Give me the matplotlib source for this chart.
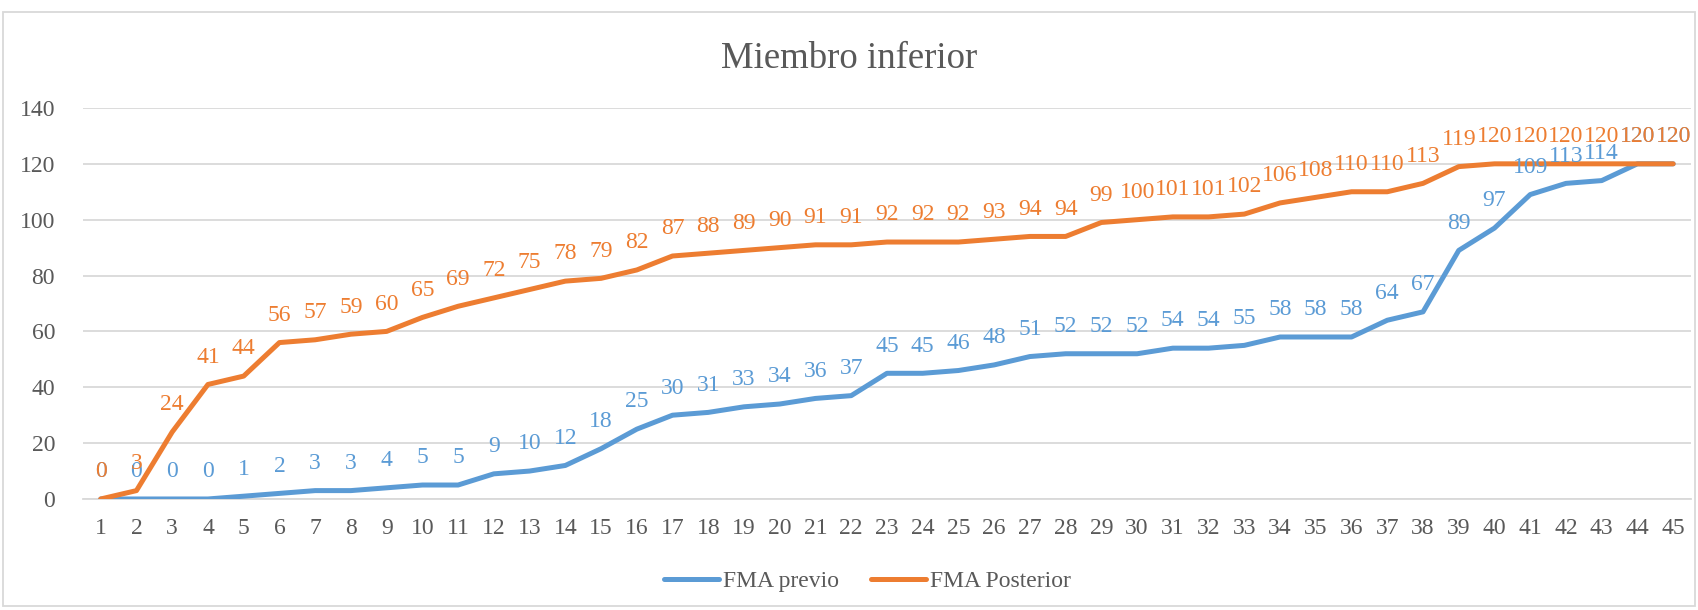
import matplotlib.pyplot as plt
from matplotlib.patches import Rectangle

pacientes = list(range(1, 46))
fma_previo = [0, 0, 0, 0, 1, 2, 3, 3, 4, 5, 5, 9, 10, 12, 18, 25, 30, 31, 33, 34,
              36, 37, 45, 45, 46, 48, 51, 52, 52, 52, 54, 54, 55, 58, 58, 58, 64, 67,
              89, 97, 109, 113, 114, 120, 120]
fma_posterior = [0, 3, 24, 41, 44, 56, 57, 59, 60, 65, 69, 72, 75, 78, 79, 82, 87, 88,
                 89, 90, 91, 91, 92, 92, 92, 93, 94, 94, 99, 100, 101, 101, 102, 106,
                 108, 110, 110, 113, 119, 120, 120, 120, 120, 120, 120]

azul = '#5B9BD5'
naranja = '#ED7D31'
gris = '#595959'

plt.rcParams['font.family'] = ['Liberation Serif', 'DejaVu Serif']

fig = plt.figure(figsize=(16.98, 6.1), dpi=100)
ax = fig.add_axes([0.0488, 0.182, 0.9471, 0.641])

ax.plot(pacientes, fma_previo, color=azul, lw=3.6, solid_capstyle='round',
        solid_joinstyle='round', label='FMA previo', zorder=3)
ax.plot(pacientes, fma_posterior, color=naranja, lw=3.6, solid_capstyle='round',
        solid_joinstyle='round', label='FMA Posterior', zorder=4)

# etiquetas de datos encima de cada punto
for x, y in zip(pacientes, fma_previo):
    ax.annotate(str(y), (x, y), xytext=(0, 12), textcoords='offset points',
                ha='center', va='bottom', fontsize=17, color=azul, zorder=5)
for x, y in zip(pacientes, fma_posterior):
    ax.annotate(str(y), (x, y), xytext=(0, 12), textcoords='offset points',
                ha='center', va='bottom', fontsize=17, color=naranja, zorder=6)

ax.set_xlim(0.5, 45.5)
ax.set_ylim(0, 140)
ax.set_yticks(range(0, 141, 20))
ax.set_xticks(pacientes)
ax.grid(axis='y', color='#D9D9D9', lw=1.3)
ax.set_axisbelow(True)
for s in ['top', 'right', 'left']:
    ax.spines[s].set_visible(False)
ax.spines['bottom'].set_color('#D9D9D9')
ax.spines['bottom'].set_linewidth(1.3)
ax.tick_params(axis='both', length=0, labelsize=17, colors=gris)
ax.tick_params(axis='x', pad=14)
ax.tick_params(axis='y', pad=20)

fig.text(0.5, 0.903, 'Miembro inferior', ha='center', va='center', fontsize=26.5, color=gris)

fig.legend(loc='center', bbox_to_anchor=(0.511, 0.047), ncol=2, frameon=False,
           fontsize=17, labelcolor=gris, handlelength=2.33, columnspacing=1.35,
           handletextpad=0.17)

fig.patches.append(Rectangle((0.002, 0.007), 0.996, 0.973, transform=fig.transFigure,
                             fill=False, edgecolor='#D9D9D9', lw=1.3))

fig.savefig('out.png', dpi=100)
